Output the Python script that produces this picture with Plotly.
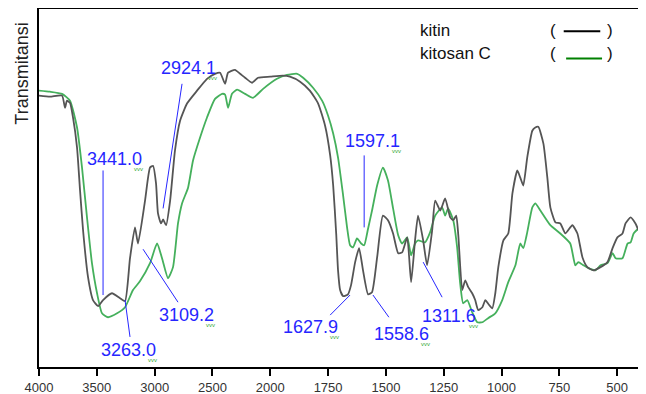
import plotly.graph_objects as go

# ---------------- data ----------------
kitin_wn = [4000, 3905, 3801, 3775, 3758, 3732, 3706, 3671, 3645, 3619, 3576, 3533, 3489, 3446,
            3369, 3299, 3256, 3213, 3170, 3144, 3083, 3040, 3014, 2988, 2971, 2945, 2927, 2901,
            2866, 2824, 2780, 2720, 2633, 2547, 2478, 2434, 2391, 2365, 2305, 2261, 2218, 2158,
            2106, 2000, 1945, 1915, 1871, 1829, 1793, 1763, 1741, 1728, 1715, 1707, 1698, 1685,
            1664, 1651, 1633, 1616, 1599, 1577, 1560, 1538, 1513, 1491, 1469, 1447, 1430, 1408,
            1391, 1374, 1361, 1339, 1322, 1300, 1287, 1265, 1244, 1222, 1209, 1196, 1187, 1170,
            1157, 1144, 1127, 1114, 1101, 1083, 1070, 1057, 1040, 1027, 1014, 992, 971, 953,
            932, 919, 906, 889, 867, 854, 841, 819, 802, 789, 767, 746, 724, 694, 672, 650,
            629, 603, 572, 542, 520, 499, 477, 464, 442, 421, 408]
kitin_T = [75.8, 75.5, 75.8, 72.4, 74.4, 73.8, 69.7, 61.3, 49.3, 38.2, 25.1, 18.7, 17.0, 18.7,
           20.6, 19.2, 18.4, 30.4, 39.0, 34.5, 46.5, 55.7, 56.2, 51.3, 42.9, 40.1, 41.2, 39.6,
           46.5, 60.5, 68.8, 73.6, 77.2, 80.5, 81.9, 82.2, 79.1, 82.2, 83.0, 81.9, 80.8, 79.4,
           80.8, 81.1, 81.4, 81.1, 79.7, 77.2, 73.6, 67.4, 59.1, 50.7, 37.3, 27.0, 21.5, 19.8,
           20.3, 22.8, 29.3, 33.2, 27.0, 20.3, 20.9, 30.6, 42.3, 41.0, 37.3, 31.8, 32.0, 36.2,
           23.7, 35.4, 42.3, 35.4, 28.4, 38.2, 46.5, 43.7, 47.1, 41.8, 41.0, 42.3, 36.8, 21.5,
           24.2, 22.3, 20.6, 18.7, 15.9, 16.7, 18.7, 17.6, 16.4, 20.6, 27.9, 35.4, 37.3, 48.5,
           54.9, 52.9, 50.7, 58.5, 66.0, 66.9, 67.1, 62.4, 52.9, 44.6, 40.4, 40.1, 37.3, 39.6,
           37.3, 30.6, 27.9, 27.0, 27.9, 29.3, 33.2, 36.2, 37.3, 40.1, 41.8, 40.1, 38.2]

kitosan_wn = [4000, 3905, 3801, 3732, 3671, 3628, 3585, 3542, 3498, 3455, 3403, 3325, 3256, 3187,
              3126, 3040, 2979, 2936, 2884, 2841, 2798, 2763, 2711, 2668, 2607, 2547, 2478, 2417,
              2391, 2365, 2331, 2287, 2218, 2149, 2062, 1971, 1928, 1884, 1858, 1815, 1776, 1750,
              1728, 1707, 1685, 1668, 1655, 1642, 1625, 1607, 1594, 1577, 1560, 1538, 1513, 1491,
              1469, 1447, 1430, 1408, 1391, 1374, 1361, 1331, 1309, 1287, 1257, 1244, 1231, 1209,
              1192, 1179, 1166, 1148, 1127, 1105, 1083, 1057, 1027, 997, 971, 940, 919, 906,
              889, 867, 854, 832, 789, 746, 703, 681, 668, 646, 624, 594, 572, 542, 520, 507,
              477, 455, 442, 429, 408]
kitosan_T = [77.2, 76.9, 76.3, 74.4, 66.9, 55.7, 41.8, 29.0, 20.6, 15.0, 13.9, 15.0, 16.7, 21.5,
             24.0, 29.0, 34.5, 30.4, 24.8, 27.9, 40.1, 45.7, 50.1, 57.7, 64.1, 69.7, 74.9, 76.3,
             76.1, 72.4, 76.3, 77.5, 76.3, 75.2, 77.7, 80.5, 81.6, 81.9, 80.8, 78.0, 74.4, 70.2,
             65.2, 58.5, 47.9, 39.0, 34.0, 33.4, 35.9, 34.5, 34.0, 38.7, 43.7, 50.7, 55.7, 52.1,
             44.3, 36.8, 34.5, 36.2, 31.2, 34.5, 35.4, 34.8, 37.6, 42.3, 44.6, 42.3, 44.3, 41.0,
             33.4, 23.4, 17.8, 18.7, 15.3, 12.5, 12.5, 13.7, 15.0, 18.7, 23.7, 28.4, 34.5, 33.2,
             37.6, 44.6, 45.7, 43.7, 39.6, 37.3, 34.5, 28.4, 29.3, 28.4, 27.6, 27.0, 28.4, 29.0, 31.8, 30.4,
             30.4, 34.5, 34.8, 37.3, 38.7]

tick_labels = [4000, 3500, 3000, 2500, 2000, 1750, 1500, 1250, 1000, 750, 500]

peak_labels = ["3441.0", "3263.0", "3109.2", "2924.1", "1627.9", "1597.1", "1558.6", "1311.6"]

# ---------------- layout helpers (label placement, not data) ----------------
label_pos = [(3343, 58.2), (3230, 4.7), (2728, 14.5), (2711, 83.6),
             (1828, 11.1), (1560, 63.2), (1434, 9.2), (1227, 14.2)]
leader = [(3446, 54.9, 3446, 20.1), (3256, 18.7, 3213, 8.4), (3100, 32.9, 2798, 18.1),
          (2763, 79.1, 2927, 44.3), (1741, 14.5, 1655, 20.1), (1594, 59.1, 1594, 39.0),
          (1556, 20.1, 1487, 13.9), (1339, 29.3, 1257, 19.5)]


def pos(wn):
    """FTIR axis with scale change at 2000 cm-1."""
    return (4000 - wn) / 500 if wn >= 2000 else 4 + (2000 - wn) / 250


fig = go.Figure()
fig.add_trace(go.Scatter(x=[pos(w) for w in kitosan_wn], y=kitosan_T, mode="lines",
                         line=dict(color="#45b05c", width=1.8, shape="spline", smoothing=0.5),
                         name="kitosan C", showlegend=False))
fig.add_trace(go.Scatter(x=[pos(w) for w in kitin_wn], y=kitin_T, mode="lines",
                         line=dict(color="#555555", width=1.8, shape="spline", smoothing=0.5),
                         name="kitin", showlegend=False))

blue = "#2626ff"
for lab, (lw, lt), (w0, t0, w1, t1) in zip(peak_labels, label_pos, leader):
    fig.add_shape(type="line", x0=pos(w0), y0=t0, x1=pos(w1), y1=t1,
                  line=dict(color=blue, width=1))
    fig.add_annotation(x=pos(lw), y=lt, text=lab, showarrow=False,
                       font=dict(family="Liberation Sans", size=18, color=blue))
    fig.add_annotation(x=pos(lw), y=lt, text="vvv", showarrow=False, xshift=24, yshift=-10,
                       font=dict(family="Liberation Sans", size=6, color="#33aa33"))

# legend as text
lg_font = dict(family="Liberation Sans", size=17, color="#111111")
fig.add_annotation(xref="paper", yref="paper", x=0.633, y=0.939, text="kitin", showarrow=False,
                   xanchor="left", yanchor="middle", font=lg_font)
fig.add_annotation(xref="paper", yref="paper", x=0.633, y=0.877, text="kitosan C", showarrow=False,
                   xanchor="left", yanchor="middle", font=lg_font)
for yy in (0.939, 0.877):
    fig.add_annotation(xref="paper", yref="paper", x=0.858, y=yy, text="(", showarrow=False,
                       xanchor="center", yanchor="middle", font=lg_font)
    fig.add_annotation(xref="paper", yref="paper", x=0.953, y=yy, text=")", showarrow=False,
                       xanchor="center", yanchor="middle", font=lg_font)
fig.add_shape(type="line", xref="paper", yref="paper", x0=0.876, x1=0.937, y0=0.938, y1=0.938,
              line=dict(color="black", width=2))
fig.add_shape(type="line", xref="paper", yref="paper", x0=0.880, x1=0.940, y0=0.862, y1=0.862,
              line=dict(color="#008000", width=2))

fig.add_annotation(xref="paper", yref="paper", x=-0.028, y=0.82, text="Transmitansi",
                   textangle=-90, showarrow=False, xanchor="center", yanchor="middle",
                   font=dict(family="Liberation Sans", size=18, color="#222222"))

# page body has an 8px margin, so the figure is sized to fit the window from (8, 8)
fig.update_layout(
    width=638, height=386,
    margin=dict(l=31, r=8, t=1, b=27, autoexpand=False),
    paper_bgcolor="white", plot_bgcolor="white",
    xaxis=dict(range=[0, 10.36], tickvals=[pos(v) for v in tick_labels],
               ticktext=[str(v) for v in tick_labels], ticks="outside", ticklen=7,
               tickwidth=2, tickcolor="black", showline=True, linewidth=2, linecolor="black",
               mirror=True, showgrid=False, zeroline=False, automargin=False,
               tickfont=dict(family="Liberation Sans", size=13, color="#333333")),
    yaxis=dict(range=[0, 100], showticklabels=False, ticks="", showline=True, linewidth=2,
               linecolor="black", mirror=True, showgrid=False, zeroline=False, automargin=False),
)

fig.write_html("out.html")
